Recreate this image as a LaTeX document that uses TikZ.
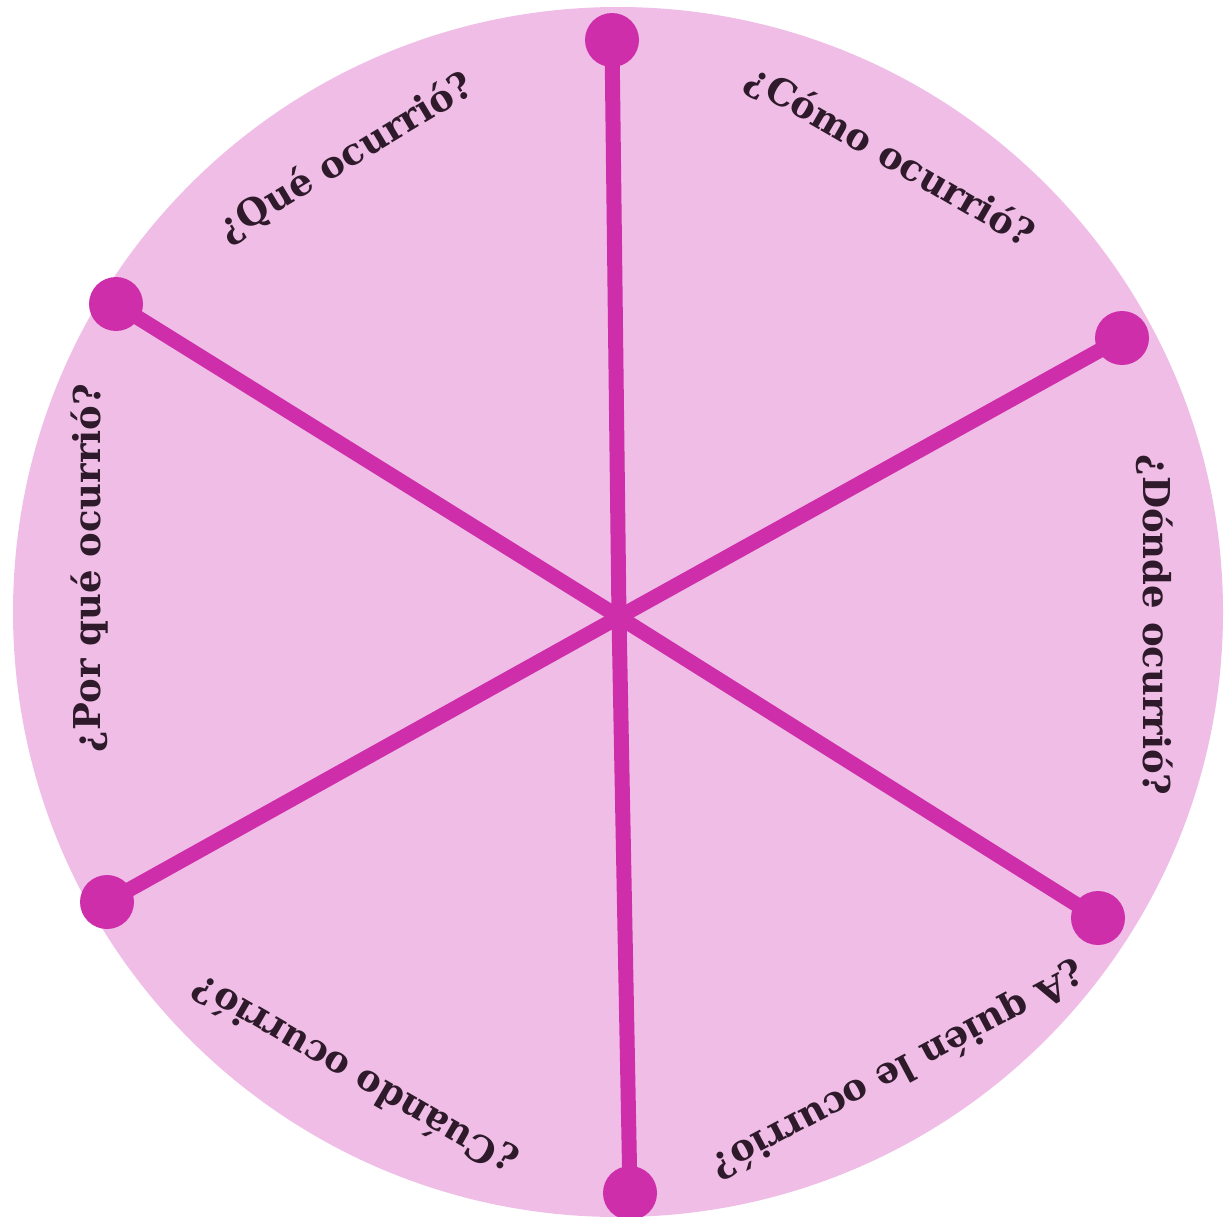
\documentclass[tikz,border=0pt]{standalone}
\usepackage{fontspec}
\setmainfont{DejaVu Serif}

\definecolor{wheelpink}{HTML}{EFBDE6}
\definecolor{spokepink}{HTML}{CE2EAA}
\definecolor{inkdark}{HTML}{2E1A2A}

\begin{document}
\begin{tikzpicture}[x=1pt, y=-1pt,
    spoke/.style={line width=15pt, spokepink},
    knob/.style={circle, fill=spokepink, inner sep=0pt, minimum size=54pt},
    question/.style={font=\fontsize{37}{42}\selectfont\bfseries, text=inkdark, inner sep=0pt}]
      \useasboundingbox (0,0) rectangle (1225,1216);
      \fill[wheelpink] (618,612) circle[radius=605];

      \coordinate (hub) at (619,617);
      \node[knob] (top) at (612,40)   {};
      \node[knob] (ne)  at (1122,338) {};
      \node[knob] (se)  at (1098,918) {};
      \node[knob] (bot) at (630,1193) {};
      \node[knob] (sw)  at (107,902)  {};
      \node[knob] (nw)  at (116,304)  {};
      \foreach \k in {top,ne,se,bot,sw,nw}
        \draw[spoke] (hub) -- (\k.center);

      \node[question, rotate=-30]  (como)   at (890,157)  {¿Cómo ocurrió?};
      \node[question, rotate=31]   (que)    at (346,158)  {¿Qué ocurrió?};
      \node[question, rotate=-90]  (donde)  at (1155,625) {¿Dónde ocurrió?};
      \node[question, rotate=90]   (porque) at (90,568)   {¿Por qué ocurrió?};
      \node[question, rotate=-152] (quien)  at (898,1070) {¿A quién le ocurrió?};
      \node[question, rotate=150]  (cuando) at (355,1075) {¿Cuándo ocurrió?};
    \end{tikzpicture}
\end{document}
